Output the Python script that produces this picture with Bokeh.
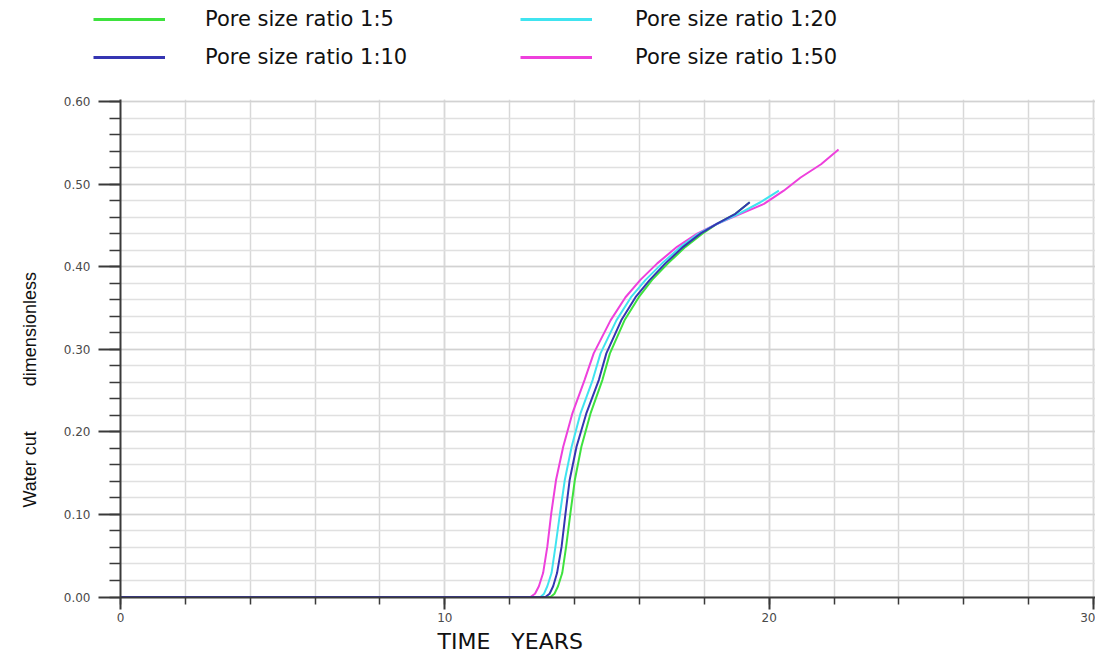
from bokeh.plotting import figure
from bokeh.layouts import column, row
from bokeh.models import (Range1d, FixedTicker, Legend, LegendItem, Title,
                          PrintfTickFormatter, ColumnDataSource)
from bokeh.embed import file_html
from bokeh.resources import INLINE

# ---------------- data ----------------
series_names = ["Pore size ratio 1:5", "Pore size ratio 1:10",
                "Pore size ratio 1:20", "Pore size ratio 1:50"]
series_colors = ["#3ee23e", "#3535b2", "#40e4f0", "#ee40dc"]

years_1_5 = [0, 13.26, 13.38, 13.49, 13.62, 13.74, 13.87, 14.01, 14.21, 14.49, 14.86,
             15.09, 15.54, 15.98, 16.39, 16.88, 17.42, 17.94, 18.40, 18.96, 19.40]
wcut_1_5 = [0, 0, 0.004, 0.013, 0.029, 0.061, 0.101, 0.142, 0.182, 0.222, 0.263,
            0.295, 0.335, 0.363, 0.384, 0.404, 0.424, 0.440, 0.452, 0.464, 0.478]

years_1_10 = [0, 13.10, 13.23, 13.34, 13.46, 13.60, 13.72, 13.85, 14.06, 14.36, 14.75,
              14.98, 15.44, 15.88, 16.32, 16.80, 17.35, 17.88, 18.40, 18.96, 19.40]
wcut_1_10 = [0, 0, 0.004, 0.013, 0.029, 0.061, 0.101, 0.142, 0.182, 0.222, 0.263,
             0.295, 0.335, 0.363, 0.384, 0.404, 0.424, 0.440, 0.452, 0.464, 0.478]

years_1_20 = [0, 12.95, 13.06, 13.16, 13.29, 13.41, 13.55, 13.70, 13.91, 14.18, 14.56,
              14.80, 15.29, 15.74, 16.19, 16.70, 17.27, 17.83, 18.40, 19.06, 19.73, 20.30]
wcut_1_20 = [0, 0, 0.004, 0.013, 0.029, 0.061, 0.101, 0.142, 0.182, 0.222, 0.263,
             0.295, 0.335, 0.363, 0.384, 0.404, 0.424, 0.440, 0.452, 0.464, 0.478, 0.492]

years_1_50 = [0, 12.64, 12.78, 12.90, 13.03, 13.16, 13.28, 13.43, 13.65, 13.93, 14.31,
              14.59, 15.11, 15.57, 16.03, 16.55, 17.16, 17.78, 18.40, 19.12, 19.84,
              20.45, 20.97, 21.60, 22.14]
wcut_1_50 = [0, 0, 0.004, 0.013, 0.029, 0.061, 0.101, 0.142, 0.182, 0.222, 0.263,
             0.295, 0.335, 0.363, 0.384, 0.404, 0.424, 0.440, 0.452, 0.464, 0.476,
             0.492, 0.508, 0.524, 0.542]

x_major_ticks = [0, 10, 20, 30]
x_minor_ticks = [0, 2, 4, 6, 8, 10, 12, 14, 16, 18, 20, 22, 24, 26, 28, 30]
y_major_ticks = [0.0, 0.1, 0.2, 0.3, 0.4, 0.5, 0.6]
y_minor_ticks = [0.0, 0.02, 0.04, 0.06, 0.08, 0.10, 0.12, 0.14, 0.16, 0.18, 0.20,
                 0.22, 0.24, 0.26, 0.28, 0.30, 0.32, 0.34, 0.36, 0.38, 0.40,
                 0.42, 0.44, 0.46, 0.48, 0.50, 0.52, 0.54, 0.56, 0.58, 0.60]

NBSP = "\u00a0"
x_title = "TIME" + NBSP * 3 + "YEARS"
y_title = "Water cut" + NBSP * 9 + "dimensionless"

LEGEND_H = 80

# ---------------- main figure ----------------
p = figure(width=1095, height=659 - LEGEND_H, output_backend="svg",
           toolbar_location=None,
           x_range=Range1d(0, 30.062), y_range=Range1d(-0.0006, 0.60242),
           min_border_left=120, min_border_right=0, min_border_top=99 - LEGEND_H,
           min_border_bottom=62)
p.outline_line_color = None
p.background_fill_color = "white"
p.border_fill_color = "white"

axis_col = "#3a3a3a"
for ax in (p.xaxis[0], p.yaxis[0]):
    ax.axis_line_color = axis_col
    ax.axis_line_width = 2
    ax.major_tick_line_color = axis_col
    ax.major_tick_line_width = 2
    ax.minor_tick_line_color = axis_col
    ax.minor_tick_line_width = 1.5
    ax.major_tick_in = 0
    ax.minor_tick_in = 0
    ax.major_label_text_font = "DejaVu Sans"
    ax.major_label_text_font_size = "12px"
    ax.major_label_text_color = "#4a4a4a"

xa = p.xaxis[0]
xa.ticker = FixedTicker(ticks=x_major_ticks, minor_ticks=x_minor_ticks)
xa.major_tick_out = 12
xa.minor_tick_out = 7
xa.major_label_standoff = 3

ya = p.yaxis[0]
ya.ticker = FixedTicker(ticks=y_major_ticks, minor_ticks=y_minor_ticks)
ya.formatter = PrintfTickFormatter(format="%.2f")
ya.major_tick_out = 22
ya.minor_tick_out = 11
ya.major_label_standoff = 8

p.xgrid.grid_line_color = "#d8d8d8"
p.xgrid.grid_line_width = 1.5
p.xgrid.minor_grid_line_color = "#d8d8d8"
p.xgrid.minor_grid_line_width = 1.5
p.ygrid.grid_line_color = "#d2d2d2"
p.ygrid.grid_line_width = 1.5
p.ygrid.minor_grid_line_color = "#e0e0e0"
p.ygrid.minor_grid_line_width = 1.5

data = [(years_1_5, wcut_1_5), (years_1_10, wcut_1_10),
        (years_1_20, wcut_1_20), (years_1_50, wcut_1_50)]
sources = [ColumnDataSource(dict(x=xs, y=ys)) for xs, ys in data]
for idx in (0, 3, 2, 1):  # draw order: green, magenta, cyan, blue on top
    p.line("x", "y", source=sources[idx], line_color=series_colors[idx], line_width=2)

# axis titles
p.add_layout(Title(text=x_title, align="left", offset=317,
                   text_font="DejaVu Sans", text_font_size="22px",
                   text_font_style="normal", text_color="#111111",
                   standoff=5), "below")
p.add_layout(Title(text=y_title, align="left", offset=90, vertical_align="top",
                   text_font="Liberation Sans", text_font_size="18px",
                   text_font_style="normal", text_color="#111111",
                   standoff=37), "left")

# ---------------- legend strip above the plot ----------------
lf = figure(width=1095, height=LEGEND_H, output_backend="svg", toolbar_location=None,
            x_range=Range1d(0, 1), y_range=Range1d(0, 1),
            x_axis_type=None, y_axis_type=None,
            min_border_left=0, min_border_right=0, min_border_top=0,
            min_border_bottom=0)
lf.outline_line_color = None
lf.xgrid.visible = False
lf.ygrid.visible = False
key_renderers = [lf.line("x", "y", source=sources[i], line_color=series_colors[i],
                         line_width=3, visible=False) for i in range(4)]


def make_legend(indices, loc, standoff):
    return Legend(items=[LegendItem(label=series_names[i], renderers=[key_renderers[i]])
                         for i in indices],
                  location=loc, orientation="vertical",
                  glyph_width=72, glyph_height=24, label_height=24,
                  label_standoff=standoff, spacing=14, padding=0, margin=0,
                  border_line_color=None, background_fill_alpha=0,
                  inactive_fill_alpha=0,
                  label_text_font="DejaVu Sans", label_text_font_size="21px",
                  label_text_color="#111111")


lf.add_layout(make_legend([0, 1], (93, 11), 40))
lf.add_layout(make_legend([2, 3], (520, 11), 43))

layout = column(row(lf), p, spacing=0)
open("out.html", "w").write(file_html(layout, INLINE))
